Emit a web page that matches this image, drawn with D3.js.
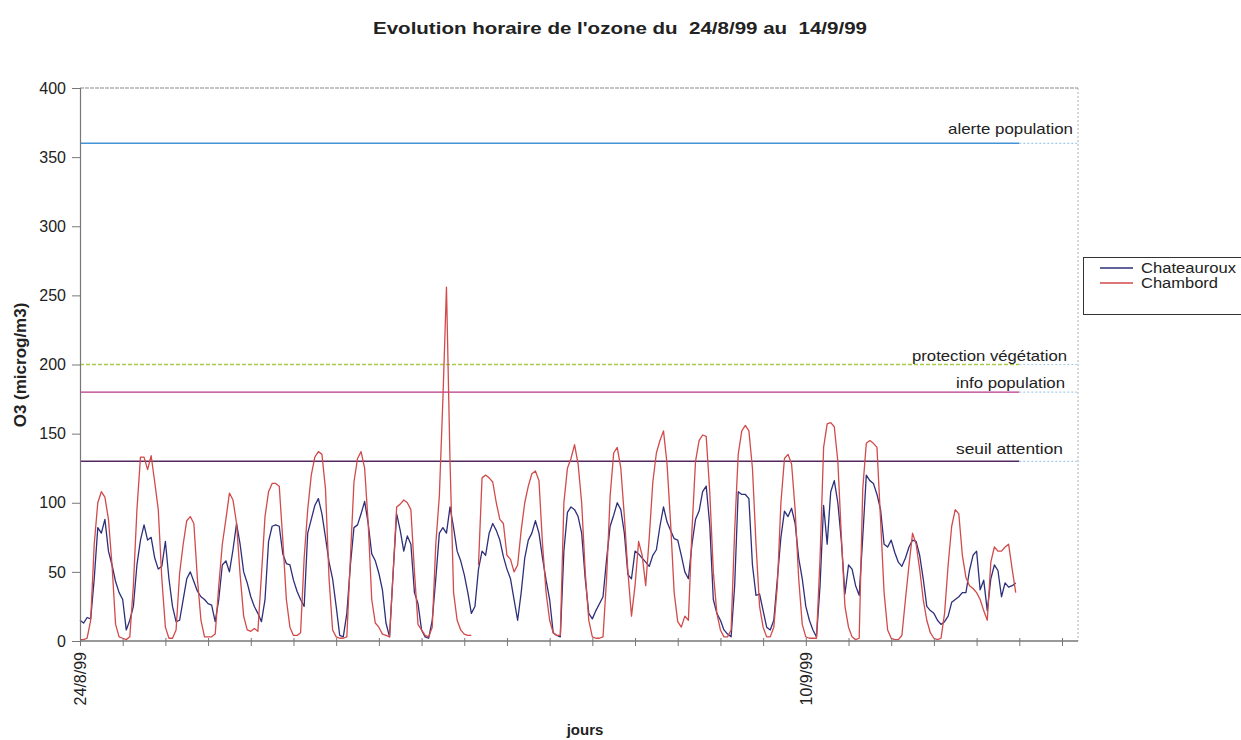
<!DOCTYPE html>
<html><head><meta charset="utf-8">
<script src="https://cdn.jsdelivr.net/npm/d3@7"></script>
<style>
body{margin:0;background:#fff;}
svg{display:block;font-family:"Liberation Sans",Arial,sans-serif;}
</style>
</head><body>
<svg id="c" width="1241" height="740"></svg>
<script>
// ---------- DATA ----------
const chartTitle = "Evolution horaire de l'ozone du  24/8/99 au  14/9/99";
const yTitle = "O3 (microg/m3)";
const xTitle = "jours";
const seriesNames = ["Chateauroux", "Chambord"];
const stepHours = 2;           // one reading every 2 hours, from 24/8/99 0h
const totalHours = 528;        // 22 days of data
// Chateauroux (12 readings per day)
const chateauroux = [
  15,13,17,16,45,82,78,88,65,55,43,35,
  30,8,15,25,55,73,84,73,75,60,52,54,
  72,45,25,14,15,30,45,50,43,36,32,30,
  27,26,14,30,55,58,50,66,85,70,50,42,
  32,25,20,14,30,72,83,84,83,63,56,55,
  44,36,30,25,78,88,98,103,92,75,57,45,
  25,4,3,20,55,82,84,92,101,85,63,58,
  49,37,13,3,49,92,80,65,76,70,35,27,
  8,3,2,15,45,78,82,78,97,82,65,58,
  48,35,20,25,52,65,62,78,85,80,73,61,
  52,45,30,15,35,60,73,78,87,78,60,44,
  30,6,4,3,65,93,97,95,90,78,45,20,
  16,22,27,32,59,83,91,100,95,78,48,45,
  65,63,60,57,54,62,66,83,97,86,80,74,
  73,62,50,45,70,88,94,108,112,84,30,20,
  15,8,5,3,40,108,106,106,103,55,33,34,
  22,10,8,15,45,75,94,90,96,85,60,45,
  25,15,8,3,40,98,70,108,116,100,72,34,
  55,52,40,33,75,120,116,114,106,95,70,68,
  73,64,57,54,60,68,73,72,62,45,25,22,
  20,15,12,14,18,28,30,32,35,35,51,62,
  65,37,44,22,45,55,51,32,42,39,40,42
];
// Chambord (12 readings per day, null = missing)
const chambord = [
  1,1,2,15,70,100,108,104,88,55,12,3,
  2,1,3,40,95,133,133,124,134,115,95,45,
  10,2,2,8,49,70,87,90,85,45,15,3,
  3,3,5,40,70,88,107,102,85,48,18,8,
  7,9,7,48,90,108,114,114,112,73,30,10,
  4,4,6,60,95,120,133,137,135,110,45,8,
  3,2,2,3,60,115,132,137,125,85,30,13,
  10,5,4,3,49,97,99,102,100,95,50,12,
  8,4,3,10,70,105,175,256,130,35,15,8,
  5,4,4,null,55,118,120,118,115,100,88,85,
  62,59,50,55,80,100,112,121,123,116,70,35,
  15,6,4,4,100,125,132,142,128,100,50,15,
  3,2,2,3,45,105,136,140,125,90,50,18,
  40,72,62,40,75,115,136,145,152,128,85,35,
  14,10,18,15,80,130,145,149,148,108,50,20,
  8,3,3,8,80,135,152,156,152,125,70,25,
  10,3,3,10,40,100,132,135,128,95,45,12,
  3,2,2,2,60,140,157,158,155,130,75,25,
  10,3,1,2,110,143,145,143,140,88,35,8,
  2,1,1,4,30,55,78,70,52,30,15,6,
  2,1,2,20,55,83,95,92,62,46,40,38,
  35,30,22,15,57,68,65,65,68,70,52,35
];
const thresholdNames = ["alerte population", "protection végétation", "info population", "seuil attention"];
const thresholdValues = [360, 200, 180, 130];
const yTickValues = [0, 50, 100, 150, 200, 250, 300, 350, 400];
const xTickLabelHours = [0, 408];
const xTickLabels = ["24/8/99", "10/9/99"];

// ---------- DRAW ----------
(function () {
const svg = d3.select("#c");
const W = 1241, H = 740;
svg.append("rect").attr("width", W).attr("height", H).attr("fill", "#fff");

const pLeft = 80, pRight = 1078, pTop = 88, pBottom = 641;
const x = d3.scaleLinear().domain([0, 561]).range([pLeft, pRight]);
const y = d3.scaleLinear().domain([0, 400]).range([pBottom, pTop]);
const FONT = "'Liberation Sans',Arial,sans-serif";

// plot border (top and right)
svg.append("line").attr("x1", pLeft).attr("x2", pRight).attr("y1", pTop).attr("y2", pTop)
  .attr("stroke", "#8a8a8a").attr("stroke-width", 1.2).attr("stroke-dasharray", "4,1");
svg.append("line").attr("x1", pRight).attr("x2", pRight).attr("y1", pTop).attr("y2", pBottom)
  .attr("stroke", "#b0b0b0").attr("stroke-width", 1).attr("stroke-dasharray", "2,2");

// thresholds
const thrColors = ["#4393d6", "#a9c94a", "#b8368c", "#55285f"];
const thrDash = [null, "4,2", null, null];
const labelRight = [1073, 1067, 1065, 1063];
const labelLen = [125, 155, 109, 107];
const labelGap = [9, 4, 4, 7];
thresholdValues.forEach((v, i) => {
  svg.append("line").attr("x1", x(0)).attr("x2", x(totalHours)).attr("y1", y(v)).attr("y2", y(v))
    .attr("stroke", thrColors[i]).attr("stroke-width", 1.4).attr("stroke-dasharray", thrDash[i]);
  svg.append("line").attr("x1", x(totalHours)).attr("x2", pRight - 1).attr("y1", y(v)).attr("y2", y(v))
    .attr("stroke", "#a6cbe8").attr("stroke-width", 1.2).attr("stroke-dasharray", "2,2");
  svg.append("text").attr("x", labelRight[i] - labelLen[i]).attr("y", y(v) - labelGap[i])
    .attr("font-size", 15).attr("fill", "#222")
    .attr("textLength", labelLen[i]).attr("lengthAdjust", "spacingAndGlyphs")
    .text(thresholdNames[i]);
});

// series lines
const line = d3.line()
  .defined(d => d != null)
  .x((d, i) => x(i * stepHours))
  .y(d => y(d));
const seriesColors = ["#2d2f7a", "#d24a4a"];
[chateauroux, chambord].forEach((s, k) => {
  svg.append("path").datum(s).attr("d", line).attr("fill", "none")
    .attr("stroke", seriesColors[k]).attr("stroke-width", 1.3).attr("stroke-linejoin", "round");
});

// axes
const yAxis = svg.append("g").attr("transform", `translate(${pLeft},0)`)
  .call(d3.axisLeft(y).tickValues(yTickValues).tickSize(8).tickPadding(6));
yAxis.select(".domain").attr("stroke", "#777").attr("stroke-width", 1.2);
yAxis.selectAll(".tick line").attr("stroke", "#777");
yAxis.selectAll(".tick text").attr("font-size", 16).attr("fill", "#222").attr("font-family", FONT);

const labelMap = new Map(xTickLabelHours.map((h, i) => [h, xTickLabels[i]]));
const xAxis = svg.append("g").attr("transform", `translate(0,${pBottom})`)
  .call(d3.axisBottom(x).tickValues(d3.range(0, 553, 24)).tickSize(5)
    .tickFormat(h => labelMap.get(h) || ""));
xAxis.select(".domain").attr("stroke", "#777").attr("stroke-width", 1.5)
  .attr("d", `M${pLeft},0H${pRight}`);
xAxis.selectAll(".tick line").attr("stroke", "#777").attr("y1", -3);
xAxis.selectAll(".tick text")
  .attr("font-size", 16).attr("fill", "#222").attr("font-family", FONT)
  .attr("text-anchor", "end").attr("dy", "0.35em")
  .attr("transform", "translate(0,11) rotate(-90)").attr("x", 0).attr("y", 0);

// titles
svg.append("text").attr("x", 373).attr("y", 34)
  .attr("font-size", 17).attr("font-weight", "bold").attr("fill", "#222")
  .attr("textLength", 494).attr("lengthAdjust", "spacingAndGlyphs")
  .style("white-space", "pre").text(chartTitle);
svg.append("text").attr("transform", "translate(26,365) rotate(-90)").attr("text-anchor", "middle")
  .attr("font-size", 17).attr("font-weight", "bold").attr("fill", "#222").text(yTitle);
svg.append("text").attr("x", 585).attr("y", 735).attr("text-anchor", "middle")
  .attr("font-size", 15).attr("font-weight", "bold").attr("fill", "#222").text(xTitle);

// legend
const lg = svg.append("g");
lg.append("rect").attr("x", 1083.5).attr("y", 257.5).attr("width", 170).attr("height", 57)
  .attr("fill", "#fff").attr("stroke", "#333").attr("stroke-width", 1);
const legLen = [95, 77];
seriesNames.forEach((n, i) => {
  const yy = 268 + i * 15;
  lg.append("line").attr("x1", 1100).attr("x2", 1133).attr("y1", yy).attr("y2", yy)
    .attr("stroke", seriesColors[i]).attr("stroke-width", 1.3);
  lg.append("text").attr("x", 1141).attr("y", yy + 5).attr("font-size", 14).attr("fill", "#222")
    .attr("textLength", legLen[i]).attr("lengthAdjust", "spacingAndGlyphs").text(n);
});
})();
</script>
</body></html>
